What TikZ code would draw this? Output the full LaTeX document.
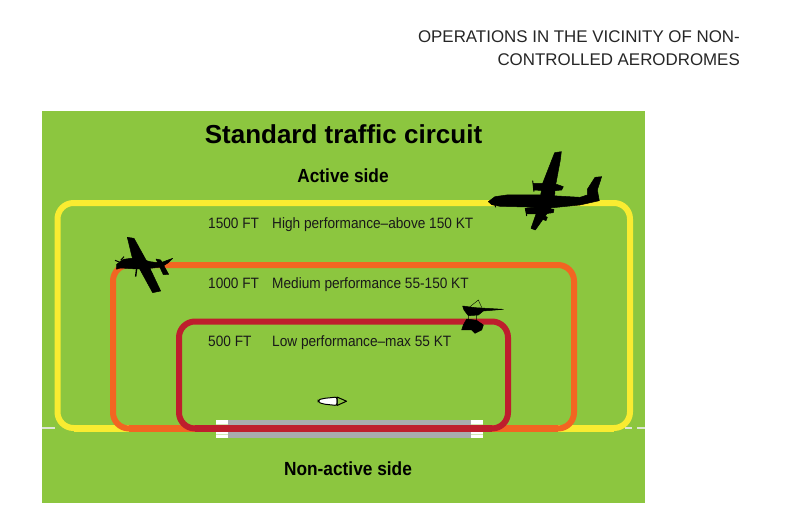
\documentclass[tikz,border=0pt]{standalone}
\usepackage{fontspec}
\setmainfont{Liberation Sans}
\newfontfamily\narrowsans[FakeStretch=0.91]{Liberation Sans}
\definecolor{fieldgreen}{HTML}{8CC63F}
\definecolor{cyellow}{HTML}{F9EC31}
\definecolor{corange}{HTML}{F26522}
\definecolor{cred}{HTML}{BE1E2D}
\definecolor{rwygray}{HTML}{A9ABAE}
\definecolor{dashgray}{HTML}{DDE5D5}
\tikzset{
  circuit/.style={line width=6pt,rounded corners=16pt},
  circuitbase/.style={line width=7pt},
  head/.style={font=\fontsize{16.9}{20}\selectfont,text=black!85,anchor=east,inner sep=0pt},
  rowtext/.style={font=\narrowsans\fontsize{15}{17}\selectfont,text=black!90,anchor=base west,inner sep=0pt},
  sidetext/.style={font=\narrowsans\bfseries\fontsize{19}{22}\selectfont,anchor=center,inner sep=0pt},
  silhouette/.style={fill=black,draw=black,line width=0.5pt,line join=round},
}
\begin{document}
\begin{tikzpicture}[x=1pt,y=-1pt]
\useasboundingbox (0,0) rectangle (800,511);
\fill[white] (0,0) rectangle (800,511);
\node[head] (h1) at (740,37) {OPERATIONS IN THE VICINITY OF NON-};
\node[head] (h2) at (740,60) {CONTROLLED AERODROMES};
\fill[fieldgreen] (42,111) rectangle (645,503);
% centreline stubs
\draw[dashgray,line width=1.2pt] (42,428) -- (55,428);
\draw[dashgray,line width=1.2pt] (625,428) -- (632,428) (637,428) -- (645,428);
% runway
\fill[rwygray] (228,420) rectangle (471,438);
\fill[white] (216,420) rectangle (228,438);
\fill[white] (471,420) rectangle (483,438);
\draw[fieldgreen!40!white,line width=0.8pt] (216,424) -- (228,424) (216,434) -- (228,434) (471,424) -- (483,424) (471,434) -- (483,434);
% circuits
\draw[circuit,cyellow] (57.5,428) rectangle (630,203);
\draw[circuitbase,cyellow] (74,428) -- (614,428);
\draw[circuit,corange] (113,428.5) rectangle (574,265);
\draw[circuitbase,corange] (129,428.5) -- (558,428.5);
\draw[circuit,cred] (179,428.5) rectangle (508,321.5);
\draw[circuitbase,cred] (195,428.5) -- (492,428.5);
% texts
\node[font=\bfseries\fontsize{26}{30}\selectfont,inner sep=0pt] (title) at (343.5,134) {Standard traffic circuit};
\node[sidetext] (active) at (343,176) {Active side};
\node[sidetext] (nonactive) at (348,469) {Non-active side};
\node[rowtext] (a1) at (208,228.5) {1500 FT};
\node[rowtext] (b1) at (272,228.5) {High performance–above 150 KT};
\node[rowtext] (a2) at (208,288.5) {1000 FT};
\node[rowtext] (b2) at (272,288.5) {Medium performance 55-150 KT};
\node[rowtext] (a3) at (208,346.5) {500 FT};
\node[rowtext] (b3) at (272,346.5) {Low performance–max 55 KT};
% large aeroplane
\begin{scope}[shift={(480,140)},x=0.3333pt,y=-0.3333pt]
\fill[silhouette] (25,185) -- (45,170) -- (80,165) -- (180,165) -- (300,172) -- (322,165) -- (322,148) -- (345,112) -- (365,110) -- (352,150) -- (358,182) -- (300,195) -- (220,203) -- (60,199) -- (35,194) -- cycle;
\fill[silhouette] (224,38) -- (244,35) -- (241,60) -- (226,140) -- (222,190) -- (198,225) -- (166,270) -- (153,265) -- (176,200) -- (188,130) -- cycle;
\fill[silhouette] (160,130) -- (195,130) -- (230,133) -- (250,140) -- (245,150) -- (225,152) -- (195,152) -- (160,150) -- cycle;
\fill[silhouette] (135,205) -- (175,200) -- (222,208) -- (220,218) -- (190,222) -- (140,222) -- cycle;
\fill[silhouette] (190,225) -- (202,232) -- (198,242) -- (188,238) -- cycle;
\draw[black,line width=1pt] (158,122) -- (162,155) (137,205) -- (140,228) (45,195) -- (47,202);
\end{scope}
% small aeroplane
\begin{scope}[shift={(100,225)},x=0.3333pt,y=-0.3333pt]
\fill[silhouette] (82,37) -- (102,40) -- (138,105) -- (182,198) -- (158,203) -- (118,130) -- (96,95) -- cycle;
\fill[silhouette] (50,118) -- (70,103) -- (110,98) -- (150,110) -- (180,114) -- (218,100) -- (205,113) -- (185,126) -- (150,130) -- (110,132) -- (62,129) -- (50,132) -- cycle;
\fill[silhouette] (168,102) -- (182,105) -- (206,148) -- (190,149) -- cycle;
\draw[black,line width=1.4pt] (110,130) -- (107,155);
\draw[black,line width=1pt] (45,106) -- (60,112) (50,133) -- (56,120) (72,95) -- (62,106);
\end{scope}
% trike
\begin{scope}[shift={(440,295)},x=0.3333pt,y=-0.3333pt]
\fill[silhouette] (68,33) -- (105,38) -- (190,43) -- (130,48) -- (115,60) -- (85,62) -- (72,45) -- cycle;
\fill[silhouette] (80,72) -- (110,76) -- (130,90) -- (125,105) -- (105,115) -- (95,105) -- (65,105) -- (70,90) -- cycle;
\draw[black,line width=0.4pt] (90,35) -- (115,15) -- (130,48) (85,62) -- (85,75) (110,60) -- (110,78);
\end{scope}
% runway aircraft symbol
\fill[white,draw=black,line width=1pt,line join=round,rounded corners=2pt] (337,397) -- (323,398.5) -- (318,400) -- (318,402) -- (323,404) -- (337,405.5) -- cycle;
\draw[black,line width=1pt,line join=round] (337,397) -- (346.5,401.2) -- (337,405.5) -- cycle;
\end{tikzpicture}
\end{document}
